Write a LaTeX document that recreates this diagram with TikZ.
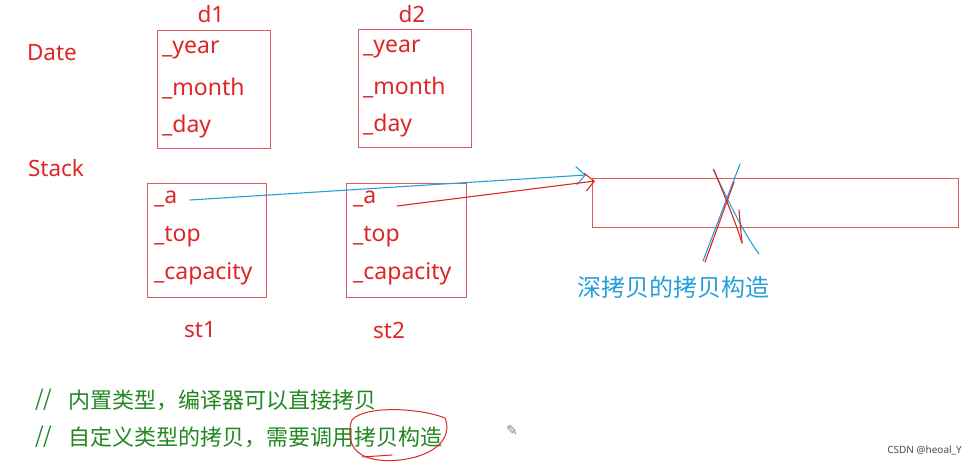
\documentclass[tikz,border=0pt]{standalone}
\usepackage{fontspec}
\setmainfont{Noto Sans}
\newfontfamily\cjk{Noto Sans CJK SC}
\newfontfamily\djv{DejaVu Sans}
\usetikzlibrary{arrows.meta}
\definecolor{tred}{RGB}{222,38,38}
\definecolor{bred}{RGB}{222,90,95}
\definecolor{tblue}{RGB}{38,160,218}
\definecolor{tgreen}{RGB}{35,135,35}
\tikzset{
  lbl/.style={text=tred, font=\fontsize{22.5}{24}\selectfont, inner sep=0pt},
  fld/.style={text=tred, font=\fontsize{23}{25}\selectfont, inner sep=0pt, anchor=west},
  objbox/.style={draw=bred, line width=1pt},
  cmt/.style={text=tgreen, font=\cjk\fontsize{22}{24}\selectfont, inner sep=0pt, anchor=west},
  pen/.style={line width=1.1pt, line cap=round, line join=round},
  barb/.style={-{Straight Barb[length=9pt,width=18pt,line width=1.1pt]}}
}
\begin{document}
\begin{tikzpicture}[x=1pt,y=-1pt]
\useasboundingbox[fill=white] (0,0) rectangle (978,465);
% labels
\node[lbl] (date) at (52,53) {Date};
\node[lbl] (stack) at (56,168) {Stack};
\node[lbl] (d1) at (211,14) {d1};
\node[lbl] (d2) at (412,14) {d2};
\node[lbl] (st1) at (200,330) {st1};
\node[lbl] (st2) at (389,330) {st2};
% Date boxes
\draw[objbox] (157,31) rectangle (270,149);
\node[fld] (y1) at (162,50) {\_year};
\node[fld] (m1) at (162,89) {\_month};
\node[fld] (dy1) at (162,127) {\_day};
\draw[objbox] (358,30) rectangle (471,148);
\node[fld] (y2) at (363,49) {\_year};
\node[fld] (m2) at (363,88) {\_month};
\node[fld] (dy2) at (363,126) {\_day};
% Stack boxes
\draw[objbox] (147,184) rectangle (266,298);
\node[fld] (a1) at (154,199) {\_a};
\node[fld] (t1) at (154,237) {\_top};
\node[fld] (c1) at (154,274) {\_capacity};
\draw[objbox] (346,184) rectangle (466,298);
\node[fld] (a2) at (353,199) {\_a};
\node[fld] (t2) at (353,237) {\_top};
\node[fld] (c2) at (353,274) {\_capacity};
% heap block
\node[draw=bred, line width=1pt, minimum width=366pt, minimum height=49pt, inner sep=0pt, anchor=north west] (heap) at (592,178) {};
% pointers
\coordinate (p1) at (190,200);
\coordinate (p2) at (397,206);
\coordinate (h1) at (586,175);
\coordinate (h2) at (595,181);
\draw[pen, tblue, barb] (p1) -- (h1);
\draw[pen, tred, barb] (p2) -- (h2);
% cross
\draw[pen, tblue] (740,164) -- (703,261);
\draw[pen, tblue] (713,169) .. controls (730,205) and (745,235) .. (759,254);
\draw[pen, tred] (714,170) .. controls (722,190) and (735,220) .. (742,243);
\draw[pen, tred] (734,182) -- (705,262);
\draw[pen, tred] (739,210) -- (742,243);
\node[text=tblue, font=\cjk\fontsize{24}{26}\selectfont, inner sep=0pt] (deep) at (673,287) {深拷贝的拷贝构造};
% comments
\node[text=tgreen, font=\cjk\fontsize{22}{24}\selectfont, inner sep=0pt, anchor=west] (s1) at (35,400) {//};
\node[text=tgreen, font=\cjk\fontsize{22}{24}\selectfont, inner sep=0pt, anchor=west] (s2) at (35,437) {//};
\node[cmt] (l1) at (68,400) {内置类型，编译器可以直接拷贝};
\node[cmt] (l2) at (68,437) {自定义类型的拷贝，需要调用拷贝构造};
\draw[pen, tred, line width=1pt] (352,420) .. controls (365,405) and (420,408) .. (445,418) .. controls (452,435) and (440,455) .. (400,460) .. controls (370,463) and (348,455) .. (350,430) .. controls (350,425) and (351,422) .. (352,420);
\draw[pen, tred, line width=1pt] (362,457) -- (392,455);
\node[text=gray, font=\djv\fontsize{14}{14}\selectfont, inner sep=0pt] (pencil) at (512,431) {✎};
\node[text=black!70, font=\fontsize{10}{12}\selectfont, inner sep=0pt, anchor=east] (wm) at (962,450) {CSDN @heoal\_Y};
\end{tikzpicture}
\end{document}
